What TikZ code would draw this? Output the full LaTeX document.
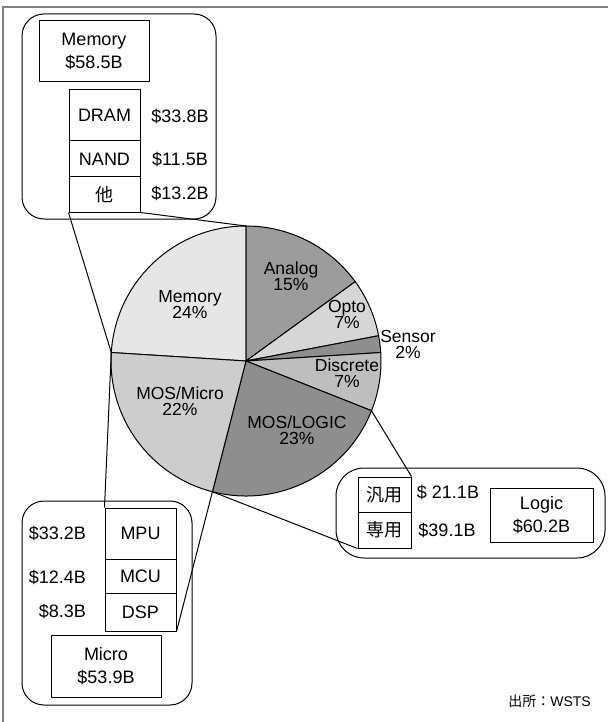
\documentclass[tikz,border=0pt]{standalone}
\usepackage{fontspec}
\setmainfont{Liberation Sans}
\newfontfamily\jp{Noto Sans CJK JP}
\definecolor{cMem}{HTML}{E6E6E6}
\definecolor{cAna}{HTML}{9C9C9C}
\definecolor{cOpto}{HTML}{D6D6D6}
\definecolor{cSen}{HTML}{8E8E8E}
\definecolor{cDis}{HTML}{BEBEBE}
\definecolor{cLog}{HTML}{8E8E8E}
\definecolor{cMic}{HTML}{CDCDCD}
\definecolor{cFrame}{HTML}{808080}
\begin{document}
\begin{tikzpicture}[x=1pt,y=-1pt,
  box/.style={draw, line width=1pt, inner sep=0pt, align=center, font=\fontsize{18}{23}\selectfont},
  call/.style={draw, line width=1pt, inner sep=0pt},
  val/.style={inner sep=0pt, font=\fontsize{18}{20}\selectfont},
  plabel/.style={inner sep=0pt, align=center, font=\fontsize{17.5}{16}\selectfont},
  conn/.style={line width=1pt},
  slice/.style={draw, line width=1pt}]
\useasboundingbox (0,0) rectangle (608,722);
% frame
\draw[cFrame, line width=1.6pt] (3,722) -- (3,7) -- (608,7);

% pie
\begin{scope}[shift={(246,361)}, y=1pt]
  \foreach \a/\b/\col in {90/176.4/cMem, 36/90/cAna, 10.8/36/cOpto, 3.6/10.8/cSen, -21.6/3.6/cDis, -104.4/-21.6/cLog, -183.6/-104.4/cMic}
    \filldraw[slice, fill=\col] (0,0) -- (\a:135) arc[start angle=\a, end angle=\b, radius=135] -- cycle;
  \coordinate (pTop) at (90:135);
  \coordinate (pL) at (176.4:135);
  \coordinate (pML) at (255.6:135);
  \coordinate (pLD) at (338.4:135);
\end{scope}

% pie labels
\node[plabel] (lmem) at (190,305) {Memory\\24\%};
\node[plabel] (lana) at (291,276) {Analog\\15\%};
\node[plabel] (lopto) at (347,314) {Opto\\7\%};
\node[plabel] (lsen) at (408,344.5) {Sensor\\2\%};
\node[plabel] (ldis) at (347,373) {Discrete\\7\%};
\node[plabel] (llog) at (297,430.5) {MOS/LOGIC\\23\%};
\node[plabel] (lmic) at (180,401.5) {MOS/Micro\\22\%};

% memory callout
\node[call, rounded corners=22pt, minimum width=194pt, minimum height=205pt] (memcall) at (119,116.5) {};
\node[box, minimum width=110pt, minimum height=61pt] (membox) at (94,51.5) {Memory\\\$58.5B};
\node[box, minimum width=71pt, minimum height=51pt] (dram) at (104.5,115.5) {DRAM};
\node[box, minimum width=71pt, minimum height=36pt] (nand) at (104.5,159) {NAND};
\node[box, minimum width=71pt, minimum height=35pt] (oth) at (104.5,194.5) {\jp 他};
\node[val] (vdram) at (180,116) {\$33.8B};
\node[val] (vnand) at (180,159) {\$11.5B};
\node[val] (voth) at (180,193) {\$13.2B};

% micro callout
\node[call, rounded corners=22pt, minimum width=170pt, minimum height=204pt] (miccall) at (107,603) {};
\node[box, minimum width=71pt, minimum height=51pt] (mpu) at (140.5,533.5) {MPU};
\node[box, minimum width=71pt, minimum height=34pt] (mcu) at (140.5,576) {MCU};
\node[box, minimum width=71pt, minimum height=38pt] (dsp) at (140.5,612) {DSP};
\node[val, anchor=east] (vmpu) at (86,533) {\$33.2B};
\node[val, anchor=east] (vmcu) at (86,577) {\$12.4B};
\node[val, anchor=east] (vdsp) at (86,611) {\$8.3B};
\node[box, minimum width=110pt, minimum height=62pt] (micbox) at (106,666) {Micro\\\$53.9B};

% logic callout
\node[call, rounded corners=28pt, minimum width=269pt, minimum height=90pt] (logcall) at (470.5,513) {};
\node[box, minimum width=53pt, minimum height=35pt] (hanyou) at (384.5,494.5) {\jp 汎用};
\node[box, minimum width=53pt, minimum height=36pt] (senyou) at (384.5,530) {\jp 専用};
\node[val] (vhan) at (448,492) {\$ 21.1B};
\node[val] (vsen) at (447,530) {\$39.1B};
\node[box, minimum width=103pt, minimum height=54pt] (logbox) at (541.5,515) {Logic\\\$60.2B};

% connectors
\draw[conn] (oth.south west) -- (pL);
\draw[conn] (oth.south east) -- (pTop);
\draw[conn] (mpu.north west) -- (pL);
\draw[conn] (dsp.south east) -- (pML);
\draw[conn] (senyou.south west) -- (pML);
\draw[conn] (hanyou.north east) -- (pLD);

% source
\node[inner sep=0pt, font=\fontsize{14}{16}\selectfont] (src) at (549.5,701) {{\jp 出所：}WSTS};
\end{tikzpicture}
\end{document}
